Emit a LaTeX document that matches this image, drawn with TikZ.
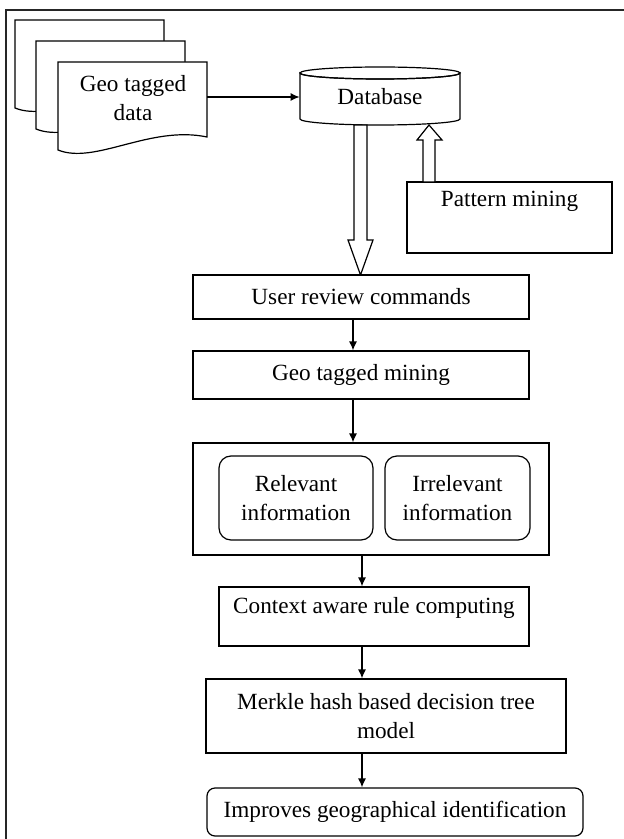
\documentclass[tikz,border=0pt]{standalone}
\usepackage{fontspec}
\setmainfont{Liberation Serif}
\usetikzlibrary{arrows.meta}
\newcommand\fs{\fontsize{11.6pt}{14.5pt}\selectfont}
\newcommand\upby[2]{\smash{\raisebox{#1}{#2}}}
\begin{document}
\begin{tikzpicture}[x=0.5pt,y=-0.5pt,
  box/.style={draw, line width=0.6pt, rectangle, inner sep=0pt, align=center, font=\fs, fill=white},
  rbox/.style={box, rounded corners=6pt},
  arr/.style={-{Latex[length=4.5pt,width=4pt]}, line width=0.6pt},
  hollow/.style={draw, line width=0.6pt, fill=white, line join=miter},
  docshape/.style={draw, line width=0.6pt, fill=white},
  frame/.style={line width=1.1pt, draw=black!85}]
\useasboundingbox (0,0) rectangle (624,839);
\fill[white] (0,0) rectangle (624,839);
% frame
\draw[frame] (6,860) -- (6,10) -- (640,10);
% stacked documents
\foreach \dx/\dy in {-43/-42,-22/-21,0/0}{
  \path[docshape, shift={(\dx,\dy)}] (58,62) -- (207,62) -- (207,137)
     .. controls (150,125) and (95,165) .. (58,150) -- cycle;
}
\node[font=\fs, align=center] (geo) at (133,98) {Geo tagged\\data};
\coordinate (docr) at (207,97);
% database cylinder
\path[draw, line width=0.6pt, fill=white] (300,73) -- (300,119)
   arc[start angle=180, end angle=0, x radius=80, y radius=6] -- (460,73)
   arc[start angle=0, end angle=180, x radius=80, y radius=6] -- cycle;
\draw[line width=0.6pt] (380,73) ellipse [x radius=80, y radius=6];
\node[font=\fs, minimum width=80pt, minimum height=29pt, inner sep=0pt] (db) at (380,97) {Database};
\draw[arr] (docr) -- (db.west);
% pattern mining
\node[box, minimum width=102.5pt, minimum height=35.5pt] (pm) at (509.5,217.5) {\upby{5.6pt}{Pattern mining}};
% hollow arrows
\path[hollow] (354,125) -- (367,125) -- (367,240) -- (373,240) -- (360.5,275) -- (348,240) -- (354,240) -- cycle;
\path[hollow] (423,182) -- (435,182) -- (435,140) -- (442,140) -- (429,125) -- (417,140) -- (423,140) -- cycle;
% main flow
\node[box, minimum width=168pt, minimum height=22pt] (ur) at (361,297) {User review commands};
\node[box, minimum width=168pt, minimum height=24pt] (gm) at (361,375) {Geo tagged mining};
\node[box, minimum width=178pt, minimum height=56pt] (cont) at (371,499) {};
\node[rbox, minimum width=77pt, minimum height=42pt] (rel) at (296,498) {Relevant\\information};
\node[rbox, minimum width=72.5pt, minimum height=42pt] (irr) at (457.5,498) {Irrelevant\\information};
\node[box, minimum width=155pt, minimum height=29.5pt] (ctx) at (374,616.5) {\upby{1.6pt}{Context aware rule computing}};
\node[box, minimum width=180pt, minimum height=37pt] (mk) at (386,716) {Merkle hash based decision tree\\model};
\node[box, rounded corners=4pt, minimum width=188pt, minimum height=24pt] (imp) at (395,812) {Improves geographical identification};
\draw[arr] ([xshift=-4pt]ur.south) -- ([xshift=-4pt]gm.north);
\draw[arr] ([xshift=-4pt]gm.south) -- ([xshift=-9pt]cont.north);
\draw[arr] ([xshift=-4.5pt]cont.south) -- ([xshift=-6pt]ctx.north);
\draw[arr] ([xshift=-6pt]ctx.south) -- ([xshift=-12pt]mk.north);
\draw[arr] ([xshift=-12pt]mk.south) -- ([xshift=-16.5pt]imp.north);
\end{tikzpicture}
\end{document}
